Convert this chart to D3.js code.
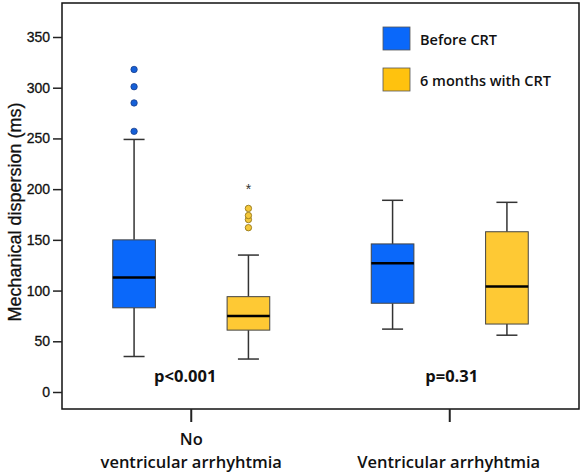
<!DOCTYPE html>
<html>
<head>
<meta charset="utf-8">
<script src="https://cdn.jsdelivr.net/npm/d3@7"></script>
<style>
  html, body { margin: 0; padding: 0; background: #fff; }
  svg { display: block; }
</style>
</head>
<body>
<svg id="chart" width="583" height="474"></svg>
<script>
// ---- data ----
const groups = ["No ventricular arrhyhtmia", "Ventricular arrhyhtmia"];
const groupLabels = [["No", "ventricular arrhyhtmia"], ["Ventricular arrhyhtmia"]];
const series = ["Before CRT", "6 months with CRT"];
const seriesColors = ["#0a68fa", "#fec934"];
const legendColors = ["#0a68fa", "#ffc20e"];
const outlierColors = ["#1560d8", "#f5c83a"];
// box stats: [whiskerLow, q1, median, q3, whiskerHigh]
const noVA_before = [35, 83, 113, 150, 249];
const noVA_after = [32.5, 61, 75, 94, 135];
const VA_before = [62, 87.5, 127, 146, 189];
const VA_after = [56, 67, 104, 158, 187];
const noVA_before_outliers = [257, 285, 301, 318];
const noVA_after_outliers = [162, 170, 174, 181];
const noVA_after_extremes = [202];
const VA_before_outliers = [];
const VA_after_outliers = [];
const pValues = ["p<0.001", "p=0.31"];
const yTicks = [0, 50, 100, 150, 200, 250, 300, 350];

const boxes = [
  { g: 0, s: 0, stats: noVA_before, out: noVA_before_outliers, ext: [] },
  { g: 0, s: 1, stats: noVA_after, out: noVA_after_outliers, ext: noVA_after_extremes },
  { g: 1, s: 0, stats: VA_before, out: VA_before_outliers, ext: [] },
  { g: 1, s: 1, stats: VA_after, out: VA_after_outliers, ext: [] }
];

// ---- layout ----
const L = 62, R = 579, T = 3, B = 409;
const svg = d3.select("#chart");

const y = d3.scaleLinear().domain([0, 350]).range([392, 37]);
const x = d3.scaleBand().domain(groups).range([L, R]).paddingInner(0).paddingOuter(0);
const xs = d3.scaleBand().domain(series).range([-57 - 21.5, 57 + 21.5]).paddingInner(0.627);
const boxW = xs.bandwidth();
const capW = 21;

// frame
svg.append("rect").attr("x", L).attr("y", T).attr("width", R - L).attr("height", B - T)
  .attr("fill", "none").attr("stroke", "#111").attr("stroke-width", 1.5);

// y axis
const yAxis = d3.axisLeft(y).tickValues(yTicks).tickSize(9).tickPadding(3);
const ya = svg.append("g").attr("transform", `translate(${L},0)`).call(yAxis);
ya.select(".domain").remove();
ya.selectAll(".tick line").attr("stroke", "#222").attr("stroke-width", 1.5);
ya.selectAll(".tick text").attr("font-family", "Liberation Sans, Arial, sans-serif")
  .attr("font-size", 14).attr("fill", "#111")
  .attr("stroke", "#111").attr("stroke-width", 0.3);

// x axis
const xAxis = d3.axisBottom(x).tickSize(13).tickFormat("");
const xa = svg.append("g").attr("transform", `translate(0,${B})`).call(xAxis);
xa.select(".domain").remove();
xa.selectAll(".tick line").attr("stroke", "#222").attr("stroke-width", 2);

// x labels
groups.forEach((g, i) => {
  const cx = x(g) + x.bandwidth() / 2 + (i === 0 ? 0 : -1);
  const lines = groupLabels[i];
  const t = svg.append("text").attr("x", cx).attr("text-anchor", "middle")
    .attr("font-family", "Open Sans, sans-serif").attr("font-weight", 600)
    .attr("font-size", 16.5).attr("fill", "#111");
  lines.forEach((ln, k) => {
    t.append("tspan").attr("x", cx)
      .attr("y", 468 - (lines.length - 1 - k) * 23).text(ln);
  });
});

// y label
svg.append("text")
  .attr("transform", `translate(21,212) rotate(-90)`)
  .attr("text-anchor", "middle")
  .attr("font-family", "Liberation Sans, Arial, sans-serif")
  .attr("font-size", 18).attr("fill", "#111")
  .attr("stroke", "#111").attr("stroke-width", 0.3)
  .text("Mechanical dispersion (ms)");

// boxes
boxes.forEach(b => {
  const cx = x(groups[b.g]) + x.bandwidth() / 2 + xs(series[b.s]) + boxW / 2;
  const [lo, q1, med, q3, hi] = b.stats;
  const gEl = svg.append("g");
  gEl.append("line").attr("x1", cx).attr("x2", cx).attr("y1", y(hi)).attr("y2", y(q3))
    .attr("stroke", "#333").attr("stroke-width", 1.5);
  gEl.append("line").attr("x1", cx).attr("x2", cx).attr("y1", y(q1)).attr("y2", y(lo))
    .attr("stroke", "#333").attr("stroke-width", 1.5);
  [hi, lo].forEach(v => {
    gEl.append("line").attr("x1", cx - capW / 2).attr("x2", cx + capW / 2)
      .attr("y1", y(v)).attr("y2", y(v)).attr("stroke", "#333").attr("stroke-width", 1.5);
  });
  gEl.append("rect").attr("x", cx - boxW / 2).attr("y", y(q3))
    .attr("width", boxW).attr("height", y(q1) - y(q3))
    .attr("fill", seriesColors[b.s]).attr("stroke", "#444").attr("stroke-width", 1);
  gEl.append("line").attr("x1", cx - boxW / 2).attr("x2", cx + boxW / 2)
    .attr("y1", y(med)).attr("y2", y(med)).attr("stroke", "#000").attr("stroke-width", 2.5);
  b.out.forEach(v => {
    gEl.append("circle").attr("cx", cx).attr("cy", y(v)).attr("r", 3.2)
      .attr("fill", outlierColors[b.s]).attr("stroke", b.s === 0 ? "#1a3f8a" : "#8a6d10")
      .attr("stroke-width", 0.8);
  });
  b.ext.forEach(v => {
    gEl.append("text").attr("x", cx).attr("y", y(v) + 7).attr("text-anchor", "middle")
      .attr("font-family", "Liberation Sans, Arial, sans-serif").attr("font-size", 14)
      .attr("fill", "#333").text("*");
  });
});

// p values
groups.forEach((g, i) => {
  const cx = x(g) + x.bandwidth() / 2 + (i === 0 ? -6 : 2);
  svg.append("text").attr("x", cx).attr("y", 382).attr("text-anchor", "middle")
    .attr("font-family", "Open Sans, sans-serif").attr("font-weight", 700)
    .attr("font-size", 16.5).attr("fill", "#111").text(pValues[i]);
});

// legend
series.forEach((s, i) => {
  const ly = 27 + i * 41;
  svg.append("rect").attr("x", 383).attr("y", ly).attr("width", 27).attr("height", 23)
    .attr("fill", legendColors[i]).attr("stroke", "#555").attr("stroke-width", 0.8);
  svg.append("text").attr("x", 420).attr("y", ly + 18)
    .attr("font-family", "Open Sans, sans-serif").attr("font-weight", 600)
    .attr("font-size", 14.5).attr("fill", "#111").text(s);
});
</script>
</body>
</html>
